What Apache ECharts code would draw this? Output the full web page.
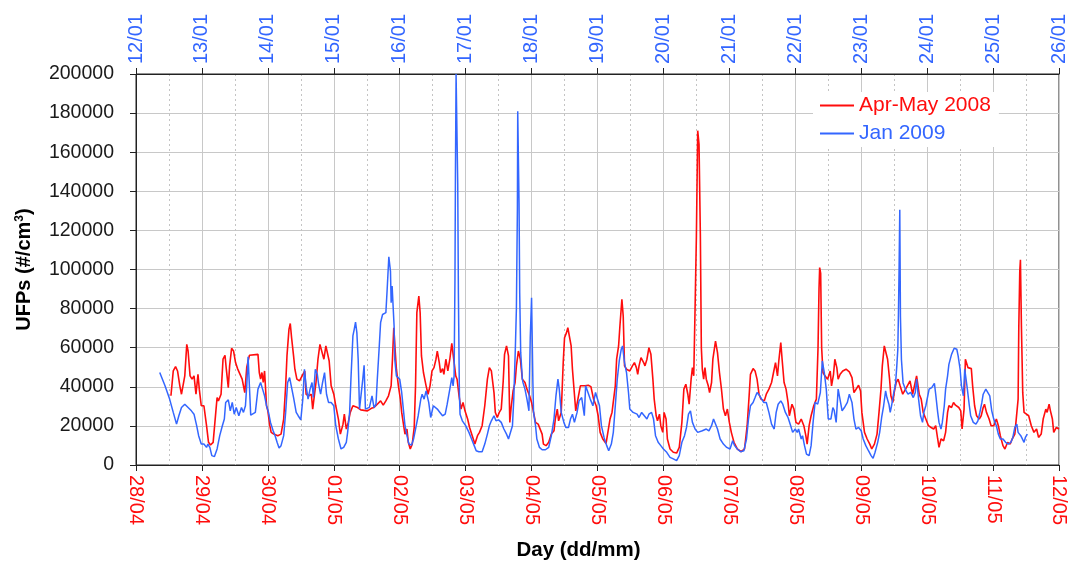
<!DOCTYPE html>
<html>
<head>
<meta charset="utf-8">
<script src="https://cdn.jsdelivr.net/npm/echarts@6/dist/echarts.min.js"></script>
<style>html,body{margin:0;padding:0;background:#fff;}#chart{width:1069px;height:566px;}</style>
</head>
<body>
<div id="chart"></div>
<script>
// Tick labels
const bottomLabels = ['28/04','29/04','30/04','01/05','02/05','03/05','04/05','05/05','06/05','07/05','08/05','09/05','10/05','11/05','12/05'];
const topLabels = ['12/01','13/01','14/01','15/01','16/01','17/01','18/01','19/01','20/01','21/01','22/01','23/01','24/01','25/01','26/01'];

// Apr-May 2008 (days since 28/04 00:00, UFP #/cm3)
const aprMayDay = [0.53,0.565,0.60,0.63,0.665,0.69,0.72,0.74,0.77,0.79,0.82,0.85,0.88,0.91,0.94,0.96,0.99,1.03,1.07,1.10,1.13,1.17,1.21,1.23,1.25,1.29,1.32,1.35,1.37,1.40,1.42,1.45,1.48,1.51,1.54,1.57,1.61,1.65,1.68,1.72,1.85,1.87,1.89,1.91,1.93,1.95,1.98,2.00,2.03,2.05,2.09,2.15,2.20,2.24,2.27,2.29,2.32,2.34,2.36,2.39,2.41,2.44,2.48,2.52,2.56,2.58,2.62,2.66,2.68,2.71,2.73,2.76,2.79,2.82,2.85,2.88,2.91,2.93,2.96,3.00,3.03,3.07,3.10,3.14,3.16,3.19,3.22,3.25,3.29,3.36,3.41,3.51,3.54,3.57,3.61,3.66,3.71,3.75,3.79,3.83,3.87,3.89,3.91,3.93,3.95,3.98,4.01,4.03,4.06,4.08,4.11,4.13,4.16,4.19,4.22,4.24,4.26,4.29,4.31,4.33,4.36,4.40,4.43,4.46,4.49,4.52,4.55,4.57,4.60,4.62,4.65,4.67,4.70,4.73,4.76,4.79,4.82,4.85,4.87,4.90,4.93,4.96,4.99,5.03,5.06,5.10,5.14,5.18,5.21,5.25,5.29,5.33,5.36,5.39,5.43,5.45,5.48,5.51,5.54,5.57,5.59,5.62,5.65,5.67,5.69,5.72,5.75,5.77,5.80,5.83,5.86,5.90,5.93,5.97,6.00,6.03,6.06,6.10,6.13,6.16,6.18,6.22,6.26,6.30,6.34,6.36,6.39,6.41,6.45,6.48,6.50,6.53,6.55,6.58,6.60,6.62,6.65,6.67,6.70,6.74,6.77,6.81,6.86,6.90,6.94,6.98,7.01,7.04,7.08,7.13,7.16,7.19,7.22,7.24,7.27,7.29,7.32,7.34,7.37,7.39,7.41,7.44,7.49,7.53,7.56,7.59,7.61,7.63,7.66,7.70,7.72,7.75,7.78,7.81,7.84,7.86,7.89,7.91,7.94,7.96,7.99,8.01,8.04,8.06,8.10,8.15,8.20,8.24,8.28,8.31,8.34,8.37,8.39,8.42,8.44,8.46,8.48,8.50,8.52,8.54,8.56,8.575,8.59,8.61,8.63,8.65,8.68,8.70,8.73,8.75,8.79,8.82,8.85,8.88,8.91,8.94,8.97,9.00,9.03,9.07,9.12,9.18,9.23,9.27,9.30,9.32,9.36,9.39,9.42,9.45,9.48,9.53,9.56,9.60,9.64,9.67,9.70,9.73,9.75,9.78,9.80,9.83,9.86,9.89,9.91,9.95,9.98,10.01,10.05,10.09,10.13,10.16,10.18,10.21,10.24,10.28,10.32,10.345,10.36,10.37,10.385,10.40,10.42,10.45,10.49,10.53,10.55,10.58,10.60,10.63,10.65,10.68,10.72,10.77,10.82,10.86,10.89,10.92,10.96,10.99,11.01,11.05,11.09,11.13,11.16,11.20,11.24,11.27,11.30,11.32,11.35,11.375,11.40,11.43,11.45,11.48,11.50,11.53,11.56,11.59,11.63,11.66,11.70,11.74,11.78,11.81,11.84,11.88,11.91,11.94,11.98,12.02,12.06,12.10,12.13,12.16,12.18,12.21,12.25,12.28,12.31,12.33,12.37,12.40,12.43,12.46,12.48,12.51,12.53,12.56,12.58,12.60,12.62,12.65,12.67,12.69,12.72,12.75,12.79,12.82,12.85,12.87,12.90,12.94,12.97,13.01,13.05,13.08,13.11,13.15,13.18,13.22,13.26,13.29,13.33,13.36,13.38,13.39,13.405,13.415,13.43,13.45,13.47,13.50,13.54,13.58,13.62,13.66,13.69,13.73,13.76,13.80,13.82,13.85,13.87,13.90,13.92,13.96,14.00];
const aprMayUFP = [35400,48100,50300,48100,40500,36200,37000,45600,61700,58300,45600,43900,45600,36200,46400,38800,30300,30300,20100,11600,10200,11600,26900,34500,32800,36200,54100,56100,49000,39600,50700,59700,58300,52400,49300,49300,43900,37000,50000,56100,56600,47300,43900,47300,42200,48100,30300,27700,20100,16700,15800,15000,15800,23500,40500,55800,69400,72400,65100,55800,49000,43900,43000,45600,48100,36200,35400,36200,28600,29400,42200,54100,61700,60900,54100,60900,61700,53200,40500,36200,30300,23500,15800,20900,26000,18400,21800,26900,30300,29400,28200,27700,26900,29000,29400,31100,32800,30600,32800,35400,40500,54100,70200,59200,49000,40500,33700,26900,20100,15800,18400,11600,8200,10700,19200,40500,77900,86400,77900,55800,47300,40500,36200,40500,48100,49800,54100,58300,52400,47300,49300,46400,54100,48100,54100,62200,61700,45600,43900,35400,28600,32000,27700,23500,19200,15000,10700,15000,16700,20100,30300,43900,49800,48100,37000,26900,24300,26900,28600,43000,56600,60900,55800,21800,29400,37900,42200,50700,58300,54100,43900,42200,38800,35400,32000,26900,21800,20900,21800,15800,10700,9900,11600,15800,17500,23500,28600,22600,26900,52400,65100,67700,70200,69400,60900,49000,36200,27700,27700,40500,41300,40500,40800,40100,33700,30300,25200,16700,13300,11000,10700,23500,26900,27700,40500,54100,60900,71100,84700,76200,50700,49000,48100,50700,52400,49800,46400,50700,54900,52400,50700,54100,60000,56600,43900,33700,25200,22600,26000,20100,16700,26900,23500,13300,8200,6500,6100,9000,21800,38800,41300,36200,31100,43900,49800,45600,80000,117000,171000,164000,118000,60000,49000,43900,49800,43900,40500,37000,42200,54100,63400,57500,47300,38800,28600,25200,28600,21800,16700,11600,8200,6800,8200,20100,35400,46400,49300,48100,43900,36200,33700,32800,36200,38800,42200,47300,52400,45600,53200,62600,54100,42200,38800,32000,25200,31100,28600,21800,20900,23500,20100,15000,10700,20100,25200,30300,33700,60000,90000,101000,98000,60000,47300,45600,43900,48100,40500,46400,54100,49800,43900,46400,48100,49000,47600,44700,37000,36200,40800,37900,26900,16700,13300,10700,8200,10700,15800,26900,38800,50700,60900,61200,54100,43900,35400,32000,37000,42200,43900,40500,36200,37000,40500,43000,36200,35400,45600,36200,33700,26900,23500,20100,19200,18400,20100,13300,9000,13300,12400,16700,26900,30300,29400,32000,30600,31100,29400,27700,18400,28600,54100,54900,49800,50700,49300,40500,30300,25200,23500,25200,29400,31100,26900,23500,20100,20100,23500,20100,15000,9900,8200,11600,10700,13300,15800,16700,33700,70000,99000,105000,71000,37000,26900,27700,25200,20100,16700,18400,14100,15800,23500,28600,26900,31100,27700,23500,16700,19200,18400];

// Jan 2009 (days since 12/01 00:00, UFP #/cm3)
const janDay = [0.36,0.44,0.51,0.565,0.615,0.65,0.69,0.74,0.79,0.84,0.88,0.92,0.95,0.99,1.03,1.07,1.09,1.12,1.15,1.19,1.23,1.27,1.31,1.34,1.36,1.40,1.43,1.46,1.49,1.52,1.56,1.60,1.63,1.66,1.68,1.70,1.72,1.74,1.77,1.81,1.85,1.89,1.92,1.95,1.98,2.01,2.04,2.08,2.11,2.14,2.17,2.20,2.24,2.27,2.30,2.33,2.36,2.39,2.43,2.46,2.50,2.53,2.555,2.58,2.61,2.64,2.67,2.69,2.72,2.75,2.77,2.80,2.83,2.86,2.89,2.92,2.96,3.00,3.03,3.07,3.11,3.15,3.19,3.21,3.24,3.26,3.29,3.31,3.33,3.35,3.37,3.39,3.41,3.44,3.46,3.48,3.51,3.54,3.58,3.61,3.64,3.66,3.69,3.71,3.74,3.79,3.81,3.835,3.86,3.87,3.885,3.90,3.915,3.925,3.95,3.97,4.00,4.03,4.06,4.08,4.11,4.14,4.18,4.21,4.24,4.28,4.32,4.34,4.37,4.40,4.44,4.47,4.51,4.54,4.57,4.61,4.65,4.69,4.72,4.76,4.79,4.81,4.825,4.838,4.845,4.855,4.875,4.88,4.89,4.905,4.915,4.95,5.00,5.05,5.09,5.13,5.16,5.20,5.25,5.29,5.33,5.36,5.39,5.43,5.46,5.50,5.54,5.58,5.62,5.65,5.68,5.71,5.73,5.755,5.77,5.785,5.79,5.80,5.81,5.82,5.835,5.86,5.87,5.90,5.93,5.96,5.98,6.00,6.02,6.03,6.06,6.08,6.12,6.16,6.21,6.26,6.30,6.34,6.37,6.40,6.42,6.45,6.49,6.52,6.56,6.59,6.62,6.65,6.69,6.72,6.76,6.80,6.82,6.85,6.89,6.93,6.97,7.00,7.03,7.06,7.10,7.14,7.17,7.21,7.24,7.27,7.30,7.33,7.36,7.38,7.41,7.44,7.47,7.49,7.54,7.60,7.63,7.67,7.71,7.75,7.78,7.82,7.85,7.88,7.92,7.96,8.00,8.05,8.10,8.15,8.20,8.24,8.28,8.32,8.35,8.38,8.41,8.44,8.48,8.52,8.55,8.59,8.62,8.65,8.69,8.73,8.76,8.79,8.82,8.86,8.91,8.96,9.01,9.05,9.08,9.12,9.17,9.22,9.26,9.29,9.32,9.36,9.39,9.42,9.46,9.49,9.52,9.56,9.60,9.64,9.68,9.71,9.74,9.78,9.81,9.85,9.89,9.93,9.96,10.00,10.03,10.05,10.09,10.11,10.14,10.17,10.21,10.24,10.27,10.30,10.34,10.38,10.41,10.44,10.47,10.50,10.54,10.57,10.59,10.62,10.65,10.68,10.71,10.745,10.79,10.82,10.86,10.89,10.92,10.96,11.00,11.03,11.07,11.11,11.15,11.18,11.21,11.25,11.28,11.31,11.34,11.37,11.39,11.42,11.44,11.46,11.49,11.52,11.54,11.555,11.565,11.575,11.585,11.59,11.595,11.61,11.635,11.68,11.71,11.75,11.79,11.82,11.84,11.87,11.90,11.93,11.95,11.98,12.00,12.03,12.07,12.11,12.13,12.16,12.18,12.21,12.23,12.26,12.28,12.31,12.33,12.37,12.41,12.45,12.47,12.50,12.52,12.55,12.57,12.59,12.61,12.64,12.66,12.70,12.74,12.77,12.80,12.83,12.85,12.89,12.92,12.95,12.98,13.01,13.05,13.08,13.11,13.15,13.19,13.23,13.27,13.30,13.33,13.36,13.38,13.42,13.44,13.47,13.49,13.52];
const janUFP = [47300,40500,33700,26900,20900,25200,29400,31100,29400,27700,26000,20100,15000,10700,10700,9000,10700,9000,4800,4300,8200,15000,20100,23500,32000,33300,27700,32000,26000,29400,25200,29400,26900,30300,40500,55400,55400,25500,25500,26900,38800,42200,38800,35400,30300,26900,21800,17500,15000,11600,8700,9900,15000,26900,42200,44700,43900,34500,26900,25200,23100,33700,49000,40500,33700,38800,42200,34500,49000,46400,41300,36200,42200,47300,36200,32000,32000,30300,20100,13300,8200,9000,11600,16700,26900,43900,66000,69400,73100,67700,54100,28600,28200,43900,51000,28600,28600,29500,35400,29400,31100,43900,60900,72800,77000,77900,90000,106500,99000,83000,91500,81000,71000,54000,45600,44700,43900,37100,26900,20100,15000,10700,10200,13300,18400,25200,33700,36200,33700,37900,32000,24300,30300,30600,28600,26900,25200,26000,31100,38800,44700,40500,45600,95000,147000,200000,200000,144000,88000,37000,26000,22600,20100,16700,13300,9900,7300,6800,6800,10700,15800,20100,22600,25200,22600,23100,21800,18400,15800,13300,12400,20100,33700,60900,80000,131000,181000,181000,134000,88000,57600,44000,42200,38800,33700,27700,65100,85500,42200,26900,20100,13300,9000,7800,7800,9000,15000,23500,35400,43900,38800,26900,21800,19200,19200,23500,26000,21800,26900,32800,34500,25200,40500,39600,33700,30300,37100,36200,30300,20000,14000,9900,7300,10700,16700,30300,43900,53200,59200,60900,52400,47300,37100,28600,26900,26000,24300,26900,25200,23500,26000,26900,23500,15000,11600,9900,8200,6500,3900,3100,2200,4800,11600,15000,19200,26000,27700,21800,18400,16700,15800,17500,16700,18400,17500,20100,23500,22600,18400,13300,10700,9000,8200,12400,9900,8200,6800,7300,13300,23500,30300,32000,34500,37100,35400,33700,32000,32000,26900,20900,18400,26900,31100,32800,31100,26900,24300,20100,16700,18400,16700,18400,13300,15000,9900,5600,4800,9900,21800,32000,31100,37100,53200,47300,38800,23500,23500,29400,28000,21800,38800,38800,27700,29400,32000,36200,32000,23500,18400,19200,17500,13300,9900,7300,4800,3400,6500,11600,16700,24300,30300,37900,34500,31100,26900,30300,36200,41300,50700,59000,78000,101700,130600,103500,76000,54000,42000,37900,36200,37100,34500,37100,43900,33700,25200,21800,26900,30300,31100,38800,39600,41800,36200,26900,21800,18400,21800,30300,38800,45600,51500,56600,59700,59200,55800,49000,40500,35400,49000,43900,38800,30300,25200,21800,20900,22600,26900,32000,36200,38800,39600,35400,27700,23500,20100,15800,13300,13300,11600,10700,11600,14100,19200,20900,16700,15000,15800,11600,14100,15800];

const RED = '#ff0d0d';
const BLUE = '#3366ff';
const FONT = 'Liberation Sans, Arial, sans-serif';

function pairs(xs, ys) { return xs.map((x, i) => [x, ys[i]]); }

const chart = echarts.init(document.getElementById('chart'), null, { renderer: 'canvas' });
chart.setOption({
  backgroundColor: '#ffffff',
  animation: false,
  grid: { left: 136, right: 7, top: 74, bottom: 100, show: true, borderColor: '#222', borderWidth: 1, backgroundColor: 'transparent' },
  legend: {
    orient: 'vertical', left: 813, top: 92, backgroundColor: '#ffffff',
    padding: [3, 8, 3, 7], itemGap: 7, itemWidth: 34, itemHeight: 2, icon: 'rect',
    textStyle: { fontSize: 21, fontFamily: FONT },
    data: [
      { name: 'Apr-May 2008', textStyle: { color: RED } },
      { name: 'Jan 2009', textStyle: { color: BLUE } }
    ]
  },
  xAxis: [
    {
      type: 'value', position: 'bottom', min: 0, max: 14, interval: 1,
      name: 'Day (dd/mm)', nameLocation: 'middle', nameGap: 75,
      nameTextStyle: { fontSize: 20.5, fontWeight: 'bold', fontFamily: FONT, color: '#000', padding: [0, 38, 0, 0] },
      axisLine: { show: true, onZero: false, lineStyle: { color: '#222', width: 1 } },
      axisTick: { show: true, inside: false, length: 6, lineStyle: { color: '#222' } },
      axisLabel: { rotate: -90, margin: 10, fontSize: 20, fontFamily: FONT, color: RED, showMinLabel: true, showMaxLabel: true,
        formatter: v => bottomLabels[Math.round(v)] },
      splitLine: { show: true, lineStyle: { color: '#c8c8c8', width: 1 } },
      minorTick: { show: false, splitNumber: 2 },
      minorSplitLine: { show: true, lineStyle: { color: '#c4c4c4', width: 1, type: [2, 3] } }
    },
    {
      type: 'value', position: 'top', min: 0, max: 14, interval: 1,
      axisLine: { show: true, onZero: false, lineStyle: { color: '#222', width: 1 } },
      axisTick: { show: true, inside: false, length: 6, lineStyle: { color: '#222' } },
      axisLabel: { rotate: -90, margin: 10, fontSize: 20, fontFamily: FONT, color: BLUE, showMinLabel: true, showMaxLabel: true,
        formatter: v => topLabels[Math.round(v)] },
      splitLine: { show: false }
    }
  ],
  yAxis: {
    type: 'value', min: 0, max: 200000, interval: 20000,
    name: 'UFPs (#/cm{sup|3})', nameLocation: 'middle', nameGap: 102,
    nameTextStyle: { fontSize: 20, fontWeight: 'bold', fontFamily: FONT, color: '#000',
      rich: { sup: { fontSize: 12, fontWeight: 'bold', fontFamily: FONT, color: '#000', verticalAlign: 'top', lineHeight: 20 } } },
    axisLine: { show: true, lineStyle: { color: '#222', width: 1 } },
    axisTick: { show: true, inside: false, length: 6, lineStyle: { color: '#222' } },
    axisLabel: { margin: 22, fontSize: 19.5, fontFamily: FONT, color: '#1a1a1a', formatter: v => String(v) },
    splitLine: { show: true, lineStyle: { color: '#c8c8c8', width: 1 } }
  },
  series: [
    {
      name: 'Apr-May 2008', type: 'line', xAxisIndex: 0, showSymbol: false, symbol: 'none',
      lineStyle: { color: RED, width: 1.6 }, itemStyle: { color: RED },
      data: pairs(aprMayDay, aprMayUFP)
    },
    {
      name: 'Jan 2009', type: 'line', xAxisIndex: 1, showSymbol: false, symbol: 'none',
      lineStyle: { color: BLUE, width: 1.5 }, itemStyle: { color: BLUE },
      data: pairs(janDay, janUFP)
    }
  ]
});
</script>
</body>
</html>
